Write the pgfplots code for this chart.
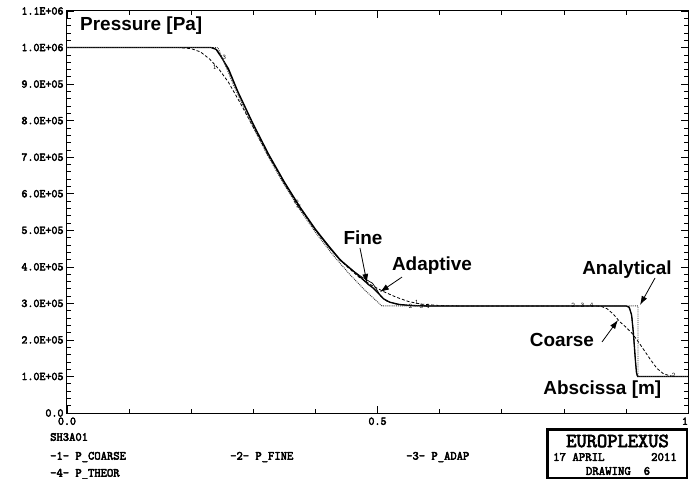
\documentclass[border=0pt]{standalone}
\usepackage{pgfplots}
\pgfplotsset{compat=1.18}
\usepackage{fontspec}
\setmainfont{Liberation Sans}
\newfontfamily\tickfont{Latin Modern Mono}[FakeBold=3.5]
\usetikzlibrary{arrows.meta}
\begin{document}
\begin{tikzpicture}
\begin{axis}[
 at={(0,0)}, anchor=south west,
 scale only axis, width=621bp, height=402bp,
 xmin=0, xmax=1, ymin=0, ymax=1.1e6,
 xtick={0,0.5,1}, xticklabels={0.0,0.5,1.},
 minor x tick num=4,
 ytick={0,100000,200000,300000,400000,500000,600000,700000,800000,900000,1000000,1100000},
 yticklabels={0.0,1.0E+05,2.0E+05,3.0E+05,4.0E+05,5.0E+05,6.0E+05,7.0E+05,8.0E+05,9.0E+05,1.0E+06,1.1E+06},
 minor y tick num=4,
 scaled y ticks=false,
 tick align=inside,
 major tick length=7bp, minor tick length=4bp,
 tick style={black, line width=0.6bp},
 axis line style={line width=1bp},
 ticklabel style={font=\tickfont\fontsize{11.7}{13}\selectfont},
 xticklabel style={yshift=-1bp},
 clip mode=individual,
]
% -1- P_COARSE (dashed)
\addplot[black, line width=0.8bp, dash pattern=on 3bp off 2bp] coordinates {
(0,1e6) (0.18,1e6) (0.2,9.97e5) (0.215,9.88e5) (0.23,9.68e5) (0.245,9.4e5) (0.26,9.05e5) (0.28,8.45e5) (0.3,7.82e5) (0.325,7.02e5) (0.35,6.28e5) (0.375,5.6e5) (0.4,5.0e5) (0.425,4.47e5) (0.45,4.02e5) (0.47,3.72e5) (0.49,3.5e5) (0.51,3.32e5) (0.53,3.17e5) (0.55,3.05e5) (0.57,2.98e5) (0.6,2.94e5) (0.63,2.93e5) (0.85,2.93e5) (0.86,2.92e5) (0.87,2.85e5) (0.88,2.7e5) (0.89,2.5e5) (0.9,2.35e5) (0.91,2.18e5) (0.92,1.95e5) (0.93,1.7e5) (0.94,1.45e5) (0.95,1.22e5) (0.96,1.08e5) (0.97,1.02e5) (0.98,1.0e5) (1,1.0e5)};
% -2- P_FINE (thick solid)
\addplot[black, line width=1.3bp] coordinates {
(0,1e6) (0.232,1e6) (0.24,9.95e5) (0.248,9.75e5) (0.26,9.42e5) (0.275,8.8e5) (0.3,7.9e5) (0.325,7.07e5) (0.35,6.32e5) (0.375,5.64e5) (0.4,5.03e5) (0.42,4.6e5) (0.44,4.19e5) (0.46,3.9e5) (0.475,3.68e5) (0.485,3.52e5) (0.493,3.42e5) (0.5,3.3e5) (0.51,3.12e5) (0.52,3.03e5) (0.535,2.97e5) (0.555,2.94e5) (0.58,2.93e5) (0.9,2.93e5) (0.905,2.9e5) (0.909,2.7e5) (0.912,2.2e5) (0.915,1.5e5) (0.917,1.1e5) (0.919,1.0e5) (1,1.0e5)};
% -3- P_ADAP (thin solid)
\addplot[black, line width=0.7bp] coordinates {
(0,1e6) (0.235,1e6) (0.242,9.93e5) (0.25,9.7e5) (0.26,9.38e5) (0.275,8.78e5) (0.3,7.88e5) (0.325,7.05e5) (0.35,6.3e5) (0.375,5.62e5) (0.4,5.01e5) (0.42,4.57e5) (0.44,4.17e5) (0.46,3.9e5) (0.475,3.72e5) (0.485,3.62e5) (0.492,3.55e5) (0.498,3.4e5) (0.505,3.2e5) (0.515,3.06e5) (0.53,2.98e5) (0.55,2.94e5) (0.57,2.93e5) (0.9,2.93e5) (0.906,2.88e5) (0.91,2.6e5) (0.913,2.0e5) (0.916,1.3e5) (0.918,1.02e5) (0.92,1.0e5) (1,1.0e5)};
% -4- P_THEOR (dotted)
\addplot[black!80, line width=0.9bp, densely dotted] coordinates {
(0,1e6) (0.243,1e6) (0.2694,8.927e5) (0.2958,7.953e5) (0.3222,7.073e5) (0.3486,6.277e5) (0.375,5.56e5) (0.4014,4.913e5) (0.4278,4.333e5) (0.4542,3.812e5) (0.4806,3.345e5) (0.507,2.93e5) (0.9195,2.93e5) (0.9195,1.0e5) (1,1.0e5)};

% curve number marks
\begin{scope}[every node/.style={font=\ttfamily\fontsize{7}{8}\selectfont, inner sep=0pt}]
\node at (axis cs:0.238,9.45e5) {1};
\node at (axis cs:0.253,9.72e5) {3};
\node[rotate=-60] at (axis cs:0.371,5.72e5) {24};
\node at (axis cs:0.553,2.93e5) {2};
\node at (axis cs:0.563,3.02e5) {1};
\node at (axis cs:0.571,2.93e5) {3};
\node at (axis cs:0.581,2.93e5) {4};
\node at (axis cs:0.815,2.95e5) {2};
\node at (axis cs:0.83,2.95e5) {3};
\node at (axis cs:0.845,2.95e5) {4};
\node at (axis cs:0.977,1.03e5) {2};
\end{scope}

% annotations
\begin{scope}[every node/.style={font=\bfseries\fontsize{19}{22}\selectfont, inner sep=0pt}]
\node[anchor=west] at (axis cs:0.021,10.59e5) {Pressure [Pa]};
\node at (axis cs:0.4767,4.79e5) {Fine};
\node at (axis cs:0.5878,4.02e5) {Adaptive};
\node at (axis cs:0.9018,3.93e5) {Analytical};
\node at (axis cs:0.797,2.0e5) {Coarse};
\node at (axis cs:0.862,0.63e5) {Abscissa [m]};
\end{scope}
\begin{scope}[-{Latex[length=9bp,width=6bp]}, line width=0.8bp]
\draw (axis cs:0.4718,4.515e5) -- (axis cs:0.4831,3.557e5);
\draw (axis cs:0.5395,3.72e5) -- (axis cs:0.504,3.31e5);
\draw (axis cs:0.9469,3.694e5) -- (axis cs:0.9227,2.955e5);
\draw (axis cs:0.8615,1.943e5) -- (axis cs:0.8873,2.545e5);
\end{scope}
\end{axis}

% bottom legend text
\begin{scope}[every node/.style={font=\tickfont\fontsize{12.3}{14}\selectfont, inner sep=0pt, anchor=west}]
\node at (-17bp,-24bp) {SH3A01};
\node at (-17bp,-44bp) {-1- P\_COARSE};
\node at (163bp,-44bp) {-2- P\_FINE};
\node at (339bp,-44bp) {-3- P\_ADAP};
\node at (-17bp,-61bp) {-4- P\_THEOR};
\end{scope}
\draw[line width=2.5bp] (480.25bp,-16.25bp) rectangle (619.75bp,-64.75bp);
\node[font=\tickfont\fontsize{20}{22}\selectfont, inner sep=0pt] at (550.5bp,-28bp) {EUROPLEXUS};
\node[font=\tickfont\fontsize{12.5}{14}\selectfont, inner sep=0pt, anchor=west] at (486bp,-44bp) {17 APRIL};
\node[font=\tickfont\fontsize{12.5}{14}\selectfont, inner sep=0pt, anchor=east] at (610bp,-44bp) {2011};
\node[font=\tickfont\fontsize{12.5}{14}\selectfont, inner sep=0pt] at (551bp,-58bp) {DRAWING\ \ 6};
\pgfresetboundingbox
\path[use as bounding box] (-67bp,-66bp) rectangle (623bp,413bp);
\end{tikzpicture}
\end{document}
